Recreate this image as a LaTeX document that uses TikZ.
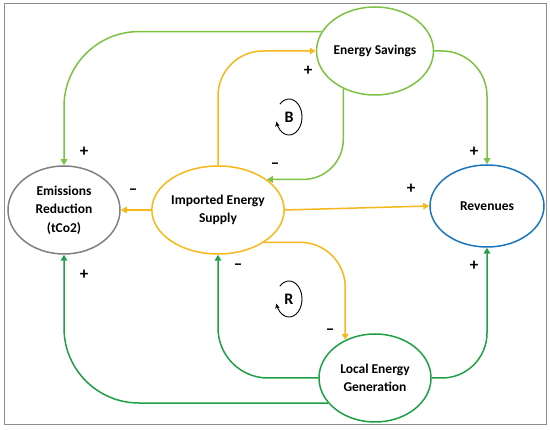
\documentclass[tikz,border=0pt]{standalone}
\usepackage{fontspec}
\setmainfont{Carlito}
\usetikzlibrary{shapes.geometric,arrows.meta}

\definecolor{savgreen}{HTML}{7DC242}
\definecolor{locgreen}{HTML}{1FA045}
\definecolor{impyellow}{HTML}{F6B81A}
\definecolor{revblue}{HTML}{1B75BC}
\definecolor{emisgray}{HTML}{808080}

\begin{document}
\begin{tikzpicture}[
			x=1pt, y=1pt,
			every node/.style={font=\bfseries\fontsize{13.5}{18.5}\selectfont},
			var/.style={draw, ellipse, line width=1.5pt, minimum width=112pt, minimum height=88pt, inner sep=0pt, align=center},
			link/.style={line width=1.5pt, -{Triangle[length=6pt,width=6.5pt]}},
			sign/.style={font=\bfseries\fontsize{17}{17}\selectfont, inner sep=0pt},
			loopmark/.style={line width=0.9pt, -{Stealth[length=5pt,width=4.5pt]}},
			]

			\useasboundingbox (0,0) rectangle (550,430);
			\draw[emisgray!90, line width=1pt] (4,5) rectangle (546,426);

			% --- Variables ---
			\node[var, draw=savgreen] (sav) at (375,379) {Energy Savings};
			\node[var, draw=emisgray] (emis) at (64,220) {Emissions\\Reduction\\(tCo2)};
			\node[var, draw=impyellow] (imp) at (218,220) {Imported Energy\\Supply};
			\node[var, draw=revblue, minimum width=114pt, minimum height=82pt] (rev) at (487,224) {Revenues};
			\node[var, draw=locgreen] (loc) at (375,52) {Local Energy\\Generation};

			% --- Links from Energy Savings ---
			\draw[link, savgreen, rounded corners=75pt] (sav.160) -| (emis.north);
			\draw[link, savgreen, rounded corners=40pt] (sav.230) |- (imp.32);
			\draw[link, savgreen, rounded corners=45pt] (sav.east) -| (rev.north);

			% --- Links from Imported Energy Supply ---
			\draw[link, impyellow, rounded corners=45pt] (imp.north) |- (sav.west);
			\draw[link, impyellow] (imp.west) -- (emis.east);
			\draw[link, impyellow] (imp.east) -- (rev.west);
			\draw[link, impyellow, rounded corners=45pt] (imp.-35) -| (loc.128);

			% --- Links from Local Energy Generation ---
			\draw[link, locgreen, rounded corners=50pt] (loc.west) -| (imp.south);
			\draw[link, locgreen, rounded corners=75pt] (loc.208) -| (emis.south);
			\draw[link, locgreen, rounded corners=45pt] (loc.east) -| (rev.south);

			% Polarity signs
			\node[sign] (s1) at (84,278) {+};
			\node[sign] (s2) at (308,359) {+};
			\node[sign] (s3) at (275,264) {--};
			\node[sign] (s4) at (474,278) {+};
			\node[sign] (s5) at (133,238) {--};
			\node[sign] (s6) at (411,241) {+};
			\node[sign] (s7) at (330,98) {--};
			\node[sign] (s8) at (238,163) {--};
			\node[sign] (s9) at (84,155) {+};
			\node[sign] (s10) at (474,164) {+};

			% --- Loop markers ---
			\node[font=\bfseries\fontsize{16}{16}\selectfont] (loopB) at (289,313) {B};
			\node[font=\bfseries\fontsize{16}{16}\selectfont] (loopR) at (289,131) {R};
			\draw[loopmark] ([shift={(135:13pt and 18pt)}]loopB.center) arc[start angle=135, end angle=-165, x radius=13pt, y radius=18pt];
			\draw[loopmark] ([shift={(135:13pt and 18pt)}]loopR.center) arc[start angle=135, end angle=-165, x radius=13pt, y radius=18pt];

		\end{tikzpicture}
\end{document}
